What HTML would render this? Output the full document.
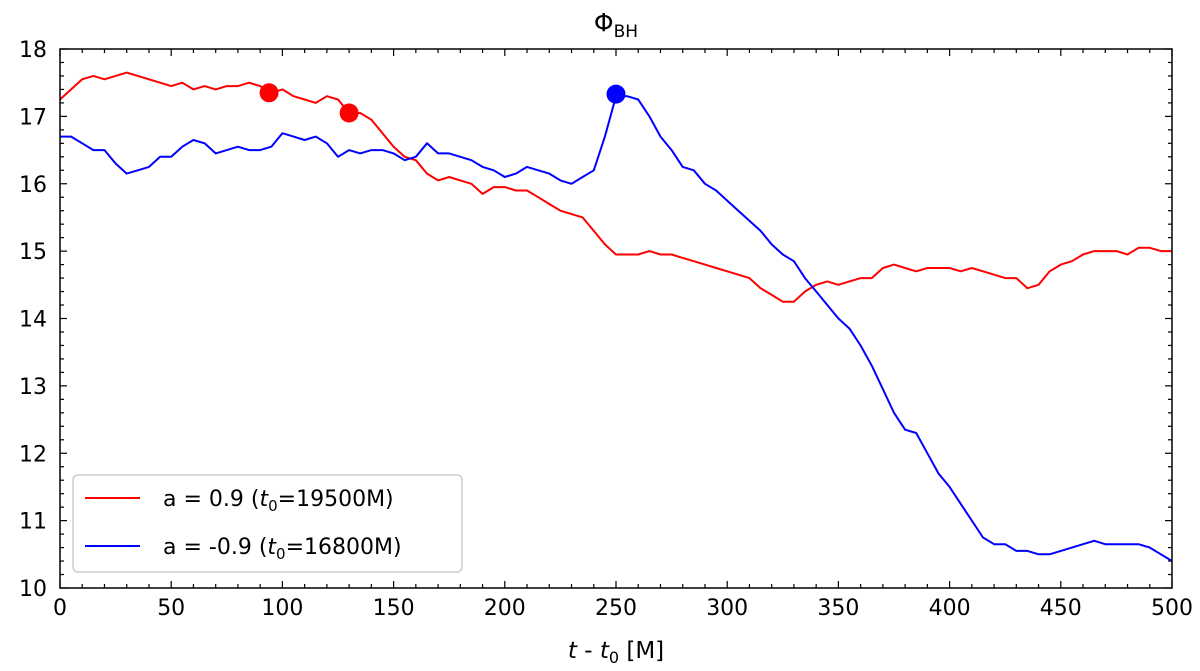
<!DOCTYPE html>
<html><head><meta charset="utf-8"><style>
body{margin:0;background:#fff;}
svg text{font-family:"DejaVu Sans","Liberation Sans",sans-serif;fill:#000;}
</style></head><body>
<svg id="chart" width="1200" height="666" xmlns="http://www.w3.org/2000/svg">
<g id="ticks"></g>
<g id="series"></g>
<rect x="60" y="49" width="1112" height="539" fill="none" stroke="#000" stroke-width="1.5"/>
<text x="616" y="31" font-size="25" text-anchor="middle">Φ<tspan font-size="17" dy="6">BH</tspan></text>
<text x="616" y="658" font-size="23" text-anchor="middle"><tspan font-style="italic">t</tspan> - <tspan font-style="italic">t</tspan><tspan font-size="16" dy="5">0</tspan><tspan dy="-5"> [M]</tspan></text>
<g>
<rect x="73" y="475" width="389" height="97" rx="5" fill="#fff" fill-opacity="0.85" stroke="#ccc" stroke-width="1.5"/>
<line x1="85" y1="498" x2="140" y2="498" stroke="#f00" stroke-width="2"/>
<text x="163" y="506" font-size="22">a = 0.9 (<tspan font-style="italic">t</tspan><tspan font-size="15" dy="5">0</tspan><tspan dy="-5">=19500M)</tspan></text>
<line x1="85" y1="546" x2="140" y2="546" stroke="#00f" stroke-width="2"/>
<text x="163" y="554" font-size="22">a = -0.9 (<tspan font-style="italic">t</tspan><tspan font-size="15" dy="5">0</tspan><tspan dy="-5">=16800M)</tspan></text>
</g>
</svg>
<script>
const tVals=[];for(let i=0;i<=100;i++)tVals.push(i*5);
const redVals=[17.25,17.4,17.55,17.6,17.55,17.6,17.65,17.6,17.55,17.5,17.45,17.5,17.4,17.45,17.4,17.45,17.45,17.5,17.45,17.35,17.4,17.3,17.25,17.2,17.3,17.25,17.05,17.05,16.95,16.75,16.55,16.4,16.35,16.15,16.05,16.1,16.05,16.0,15.85,15.95,15.95,15.9,15.9,15.8,15.7,15.6,15.55,15.5,15.3,15.1,14.95,14.95,14.95,15.0,14.95,14.95,14.9,14.85,14.8,14.75,14.7,14.65,14.6,14.45,14.35,14.25,14.25,14.4,14.5,14.55,14.5,14.55,14.6,14.6,14.75,14.8,14.75,14.7,14.75,14.75,14.75,14.7,14.75,14.7,14.65,14.6,14.6,14.45,14.5,14.7,14.8,14.85,14.95,15.0,15.0,15.0,14.95,15.05,15.05,15.0,15.0];
const blueVals=[16.7,16.7,16.6,16.5,16.5,16.3,16.15,16.2,16.25,16.4,16.4,16.55,16.65,16.6,16.45,16.5,16.55,16.5,16.5,16.55,16.75,16.7,16.65,16.7,16.6,16.4,16.5,16.45,16.5,16.5,16.45,16.35,16.4,16.6,16.45,16.45,16.4,16.35,16.25,16.2,16.1,16.15,16.25,16.2,16.15,16.05,16.0,16.1,16.2,16.7,17.3,17.3,17.25,17.0,16.7,16.5,16.25,16.2,16.0,15.9,15.75,15.6,15.45,15.3,15.1,14.95,14.85,14.6,14.4,14.2,14.0,13.85,13.6,13.3,12.95,12.6,12.35,12.3,12.0,11.7,11.5,11.25,11.0,10.75,10.65,10.65,10.55,10.55,10.5,10.5,10.55,10.6,10.65,10.7,10.65,10.65,10.65,10.65,10.6,10.5,10.4];
const redMarkers=[[94,17.35],[130,17.05]];
const blueMarkers=[[250,17.33]];
const xTicks=[0,50,100,150,200,250,300,350,400,450,500];
const yTicks=[10,11,12,13,14,15,16,17,18];
const X=t=>60+t*(1112/500);
const Y=v=>588-(v-10)*(539/8);
const NS='http://www.w3.org/2000/svg';
const tg=document.getElementById('ticks'),sg=document.getElementById('series');
function mk(tag,attrs,parent){const e=document.createElementNS(NS,tag);for(const k in attrs)e.setAttribute(k,attrs[k]);parent.appendChild(e);return e;}
for(let t=0;t<=500;t+=10){const x=X(t);const maj=t%50===0;const L=maj?7:4;
 const a=mk('line',{x1:x,y1:588,x2:x,y2:588-L,stroke:'#000','stroke-width':1.2},tg);
 const b=mk('line',{x1:x,y1:49,x2:x,y2:49+L,stroke:'#000','stroke-width':1.2},tg);}
xTicks.forEach(t=>{const e=mk('text',{x:X(t),y:615,'font-size':22,'text-anchor':'middle'},tg);e.textContent=t;});
for(let i=0;i<=40;i++){const v=10+i*0.2;const y=Y(v);const maj=i%5===0;const L=maj?7:4;
 const a=mk('line',{x1:60,y1:y,x2:60+L,y2:y,stroke:'#000','stroke-width':1.2},tg);
 const b=mk('line',{x1:1172,y1:y,x2:1172-L,y2:y,stroke:'#000','stroke-width':1.2},tg);}
yTicks.forEach(v=>{const e=mk('text',{x:47,y:Y(v)+8,'font-size':22,'text-anchor':'end'},tg);e.textContent=v;});
function line(vals,color,name){const d=vals.map((v,i)=>(i?'L':'M')+X(tVals[i]).toFixed(1)+','+Y(v).toFixed(1)).join('');
 const p=mk('path',{d:d,fill:'none',stroke:color,'stroke-width':2,'stroke-linejoin':'round'},sg);}
line(redVals,'#f00','series-a-0.9');
line(blueVals,'#00f','series-a-neg-0.9');
redMarkers.forEach(m=>{const c=mk('circle',{cx:X(m[0]),cy:Y(m[1]),r:9.5,fill:'#f00'},sg);});
blueMarkers.forEach(m=>{const c=mk('circle',{cx:X(m[0]),cy:Y(m[1]),r:9.5,fill:'#00f'},sg);});
</script>
</body></html>
